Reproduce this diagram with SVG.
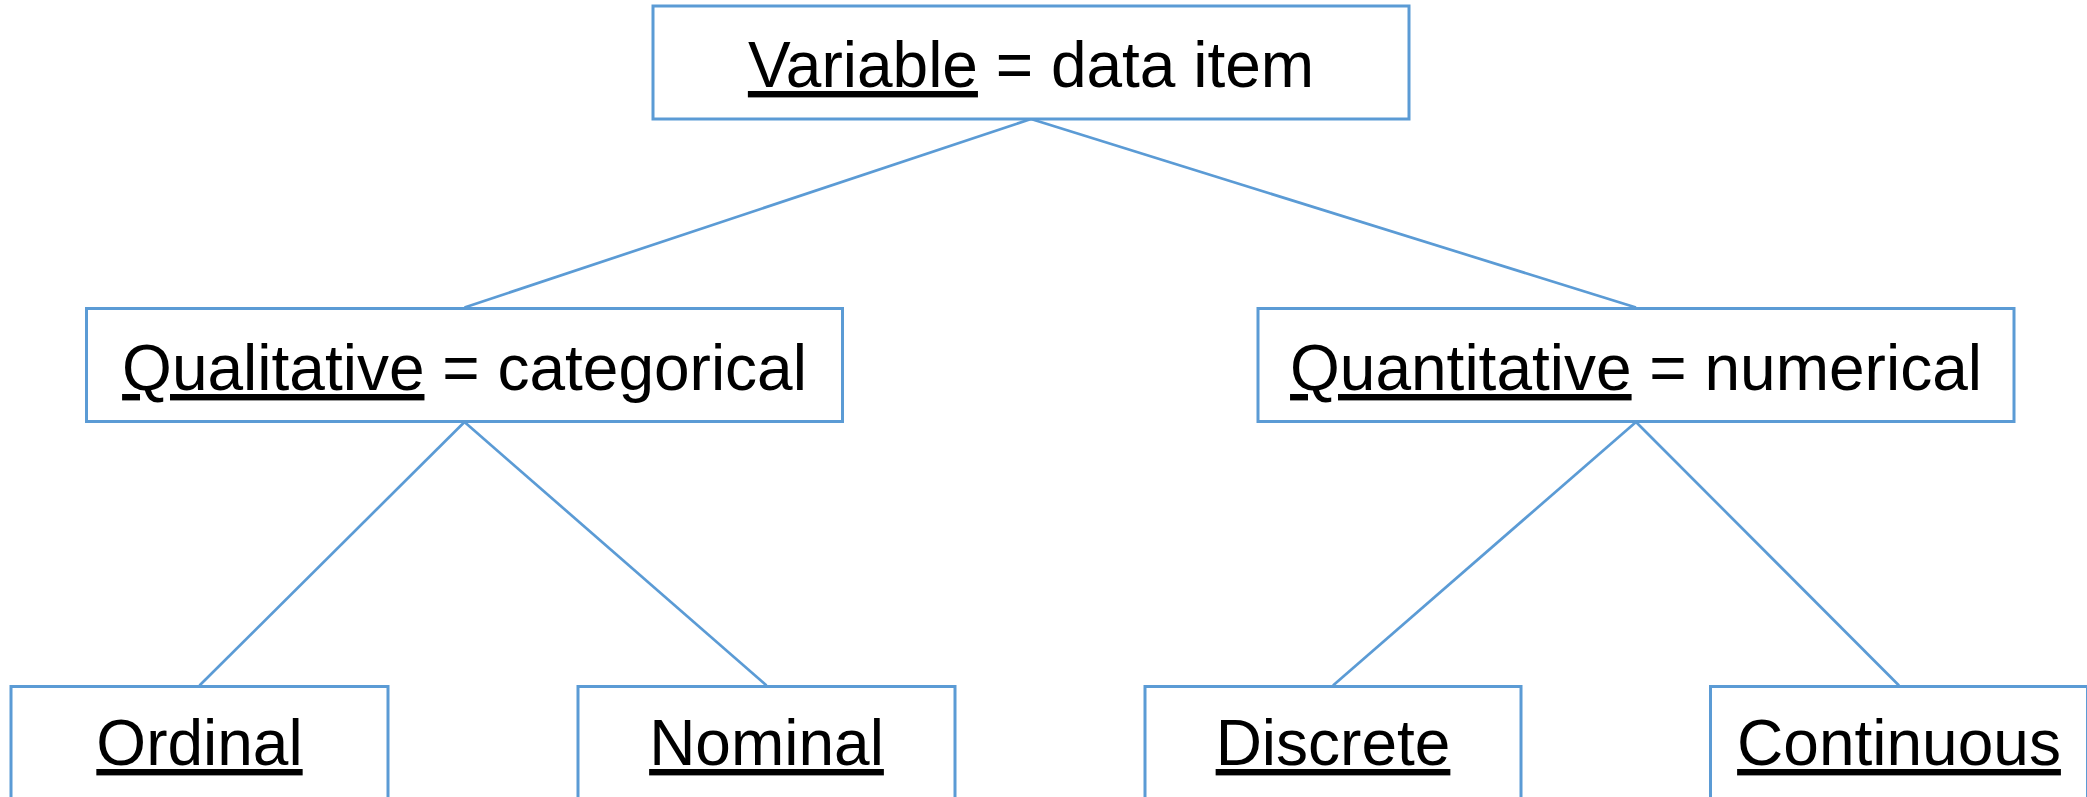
<svg xmlns="http://www.w3.org/2000/svg" width="2087" height="797" viewBox="0 0 2087 797">
<style>
.box{fill:#ffffff;stroke:#5B9BD5;stroke-width:3}
.conn{stroke:#5B9BD5;stroke-width:2.7;fill:none}
.t{font-family:"Liberation Sans",Arial,sans-serif;font-size:64px;fill:#000000;text-anchor:middle}
.u{text-decoration:underline}
</style>
<rect width="2087" height="797" fill="#ffffff"/>
<g id="connectors">
<line class="conn" x1="1031" y1="119" x2="464.5" y2="307.5"/>
<line class="conn" x1="1031" y1="119" x2="1636" y2="307.5"/>
<line class="conn" x1="464.5" y1="422" x2="199.5" y2="685.5"/>
<line class="conn" x1="464.5" y1="422" x2="766.5" y2="685.5"/>
<line class="conn" x1="1636" y1="422" x2="1333" y2="685.5"/>
<line class="conn" x1="1636" y1="422" x2="1899" y2="685.5"/>
</g>
<g id="variable">
<rect class="box" x="653" y="6" width="756" height="113"/>
<text class="t" x="1031" y="87"><tspan class="u">Variable</tspan> = data item</text>
</g>
<g id="qualitative">
<rect class="box" x="86.5" y="308.5" width="756" height="113"/>
<text class="t" x="464.5" y="390"><tspan class="u">Qualitative</tspan> = categorical</text>
</g>
<g id="quantitative">
<rect class="box" x="1258" y="308.5" width="756" height="113"/>
<text class="t" x="1636" y="390"><tspan class="u">Quantitative</tspan> = numerical</text>
</g>
<g id="ordinal">
<rect class="box" x="11" y="686.5" width="377" height="120"/>
<text class="t u" x="199.5" y="765">Ordinal</text>
</g>
<g id="nominal">
<rect class="box" x="578" y="686.5" width="377" height="120"/>
<text class="t u" x="766.5" y="765">Nominal</text>
</g>
<g id="discrete">
<rect class="box" x="1145" y="686.5" width="376" height="120"/>
<text class="t u" x="1333" y="765">Discrete</text>
</g>
<g id="continuous">
<rect class="box" x="1710.5" y="686.5" width="377" height="120"/>
<text class="t u" x="1899" y="765">Continuous</text>
</g>
</svg>
